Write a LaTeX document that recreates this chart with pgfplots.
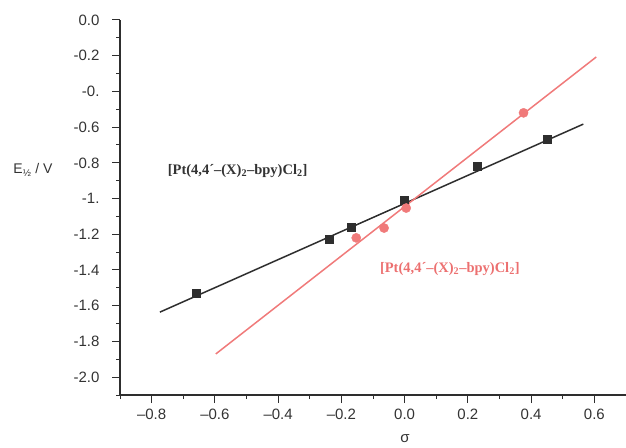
\documentclass[border=0pt]{standalone}
\usepackage{pgfplots}
\pgfplotsset{compat=1.18}
\usepackage{fontspec}
\setmainfont{Liberation Sans}
\newfontfamily\tnr{Liberation Serif}
\definecolor{lineblk}{HTML}{2E2E2E}
\definecolor{linered}{HTML}{F07A7A}
\definecolor{txtred}{HTML}{EC7070}
\definecolor{txtblk}{HTML}{333333}
\begin{document}
\begin{tikzpicture}
\useasboundingbox (0pt,0pt) rectangle (626pt,447pt);
\begin{axis}[
  at={(120pt,52pt)}, anchor=south west,
  scale only axis, width=506pt, height=375pt,
  xmin=-0.9, xmax=0.7, ymin=-2.1, ymax=0,
  axis x line*=bottom, axis y line*=left,
  axis line style={line width=1.2pt, color=lineblk},
  tick align=outside,
  major tick length=8pt, minor tick length=4pt,
  every tick/.style={line width=1pt, color=lineblk},
  xtick={-0.8,-0.6,-0.4,-0.2,0,0.2,0.4,0.6},
  xticklabels={–0.8,–0.6,–0.4,–0.2,0.0,0.2,0.4,0.6},
  minor xtick={-0.9,-0.7,-0.5,-0.3,-0.1,0.1,0.3,0.5,0.7},
  ytick={-2,-1.8,-1.6,-1.4,-1.2,-1,-0.8,-0.6,-0.4,-0.2,0},
  yticklabels={-2.0,-1.8,-1.6,-1.4,-1.2,-1.,-0.8,-0.6,-0.,-0.2,0.0},
  minor ytick={-2.1,-1.9,-1.7,-1.5,-1.3,-1.1,-0.9,-0.7,-0.5,-0.3,-0.1},
  xticklabel style={font=\fontsize{15}{17}\selectfont, color=txtblk, yshift=-2pt},
  yticklabel style={font=\fontsize{15}{17}\selectfont, color=txtblk, xshift=-9pt},
  clip=false,
]
\addplot[lineblk, line width=1.5pt] coordinates {(-0.774,-1.636) (0.565,-0.583)};
\addplot[linered, line width=1.5pt] coordinates {(-0.597,-1.870) (0.606,-0.207)};
\addplot[only marks, mark=square*, mark size=4pt, lineblk] coordinates {
  (-0.66,-1.53) (-0.24,-1.23) (-0.17,-1.16) (0.0,-1.01) (0.23,-0.82) (0.45,-0.67)};
\addplot[only marks, mark=*, mark size=4.6pt, linered] coordinates {
  (-0.153,-1.22) (-0.065,-1.165) (0.005,-1.053) (0.376,-0.52)};
\node[font=\tnr\bfseries\fontsize{14.5}{16}\selectfont, color=txtblk] at (axis cs:-0.528,-0.846) {[Pt(4,4´–(X)\textsubscript{2}–bpy)Cl\textsubscript{2}]};
\node[font=\tnr\bfseries\fontsize{14.5}{16}\selectfont, color=txtred] at (axis cs:0.143,-1.395) {[Pt(4,4´–(X)\textsubscript{2}–bpy)Cl\textsubscript{2}]};
\end{axis}
\node[font=\fontsize{14}{16}\selectfont, color=txtblk] at (33pt,277pt) {E\textsubscript{½} / V};
\node[font=\fontsize{15}{17}\selectfont, color=txtblk, inner sep=1pt] at (405pt,8pt) {σ};
\end{tikzpicture}
\end{document}
